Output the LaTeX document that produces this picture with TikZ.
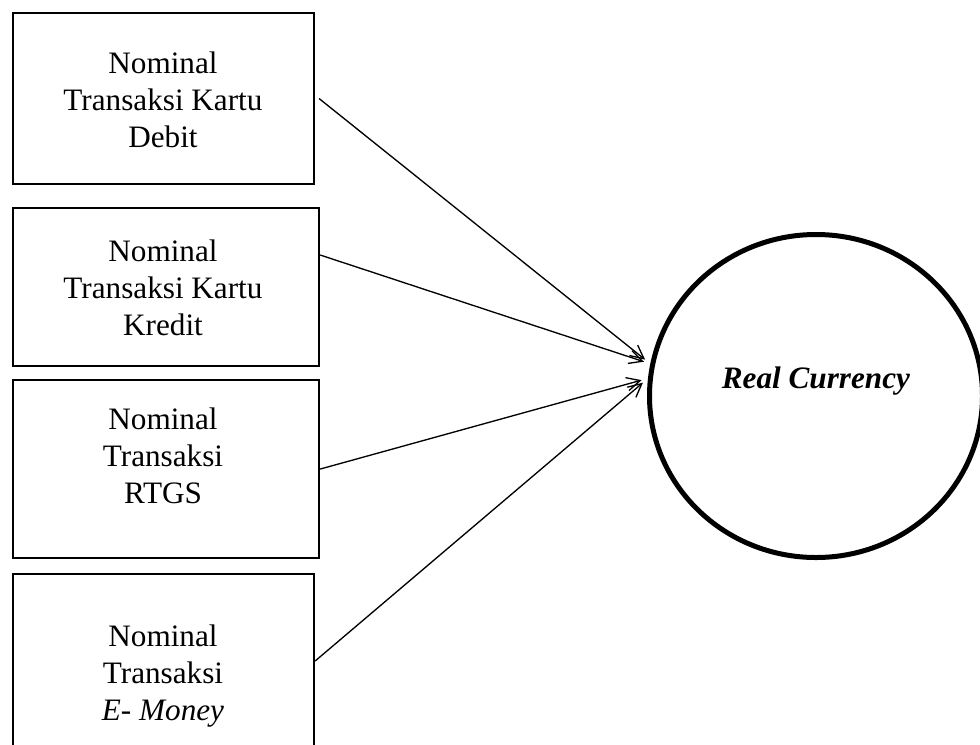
\documentclass[tikz,border=0pt]{standalone}
\usepackage{fontspec}
\setmainfont{Liberation Serif}
\usetikzlibrary{arrows.meta,shapes.geometric}
\begin{document}
\begin{tikzpicture}[x=0.75pt,y=-0.75pt,
  box/.style={draw,line width=1.6pt,rectangle,inner sep=0pt,anchor=north west},
  txt/.style={align=center,inner sep=0pt,font=\fontsize{23.4}{27.75}\selectfont},
  arr/.style={line width=1pt,-{Straight Barb[length=10pt,width=10pt,line width=1pt]}},
  bubble/.style={draw,ellipse,line width=3.75pt,inner sep=0pt,minimum width=249.75pt,minimum height=242.25pt}]
\useasboundingbox (0,0) rectangle (980,744);
\clip (0,0) rectangle (980,744);
% boxes
\node[box,minimum width=225.75pt,minimum height=128.25pt] (b1) at (12,12) {};
\node[box,minimum width=229.5pt,minimum height=118.5pt] (b2) at (12,207) {};
\node[box,minimum width=229.5pt,minimum height=133.5pt] (b3) at (12,379) {};
\node[box,minimum width=225.75pt,minimum height=147.75pt] (b4) at (12,573) {};
% texts
\node[txt] (l1) at (163,100) {Nominal\\Transaksi Kartu\\Debit};
\node[txt] (l2) at (163,288) {Nominal\\Transaksi Kartu\\Kredit};
\node[txt] (l3) at (163,456) {Nominal\\Transaksi\\RTGS};
\node[txt] (l4) at (163,676) {Nominal\\Transaksi\\\textit{E- Money}};
% circle
\node[bubble] (c) at (816,396) {};
\node[txt] (rc) at (816,381) {\textbf{\textit{Real Currency}}};
% arrows
\draw[arr,shorten >=5pt] ([xshift=3pt]b1.east) -- (c.169.4);
\draw[arr,shorten >=5pt] ([yshift=-36pt]b2.north east) -- (c.169.4);
\draw[arr,shorten >=5pt] (b3.east) -- (c.174.6);
\draw[arr,shorten >=5pt] ([yshift=-66pt]b4.north east) -- (c.174.6);
\end{tikzpicture}
\end{document}
